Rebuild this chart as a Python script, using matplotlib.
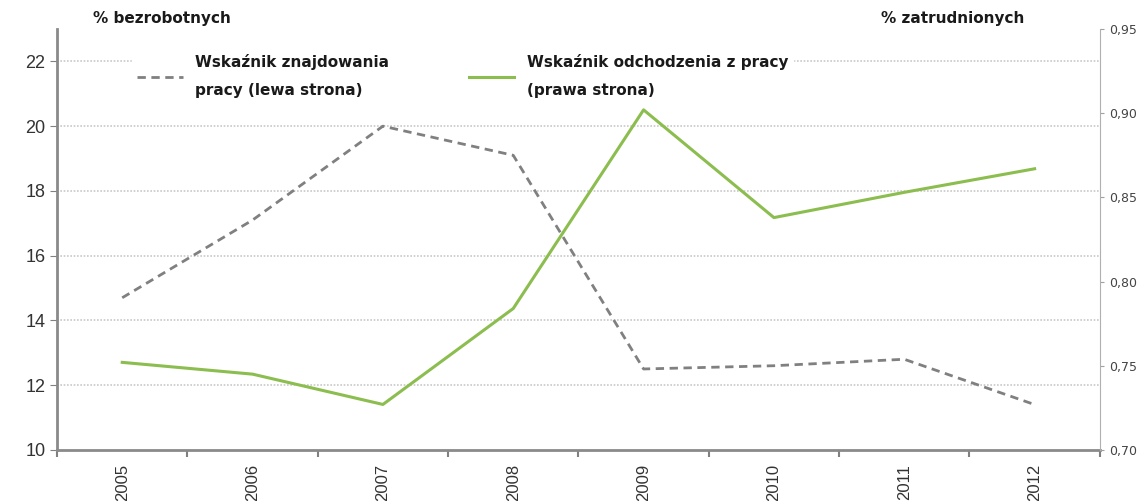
import matplotlib
matplotlib.use("Agg")
import matplotlib.pyplot as plt
import numpy as np

years = ['2005', '2006', '2007', '2008', '2009', '2010', '2011', '2012']
finding = [14.7, 17.1, 20.0, 19.1, 12.5, 12.6, 12.8, 11.4]      # left axis
leaving = [0.752, 0.745, 0.727, 0.784, 0.902, 0.838, 0.853, 0.867]  # right axis

plt.rcParams['font.family'] = ['DejaVu Sans']

fig = plt.figure(figsize=(11.48, 5.01), dpi=100)
ax = fig.add_axes([0.0497, 0.102, 0.9083, 0.84])
ax2 = ax.twinx()

x = np.arange(len(years))
l1, = ax.plot(x, finding, color='#808080', lw=2, ls=(0, (3, 2)))
l2, = ax2.plot(x, leaving, color='#8cbd4f', lw=2.2)

ax.set_xlim(-0.5, len(years) - 0.5)
ax.set_ylim(10, 23)
ax.set_yticks([10, 12, 14, 16, 18, 20, 22])
ax2.set_ylim(0.70, 0.95)
ax2.set_yticks([0.70, 0.75, 0.80, 0.85, 0.90, 0.95])
ax2.set_yticklabels(['0,70', '0,75', '0,80', '0,85', '0,90', '0,95'])

for g in [12, 14, 16, 18, 20, 22]:
    ax.axhline(g, color='#c8c8c8', lw=1.2, ls=(0, (1, 1)), zorder=0)

ax.set_xticks(x)
ax.set_xticklabels(years, rotation=90, fontsize=12, color='#333333',
                   family='Liberation Sans')
ax.tick_params(axis='x', which='major', length=0, pad=10)
ax.set_xticks(np.arange(-0.5, len(years), 1), minor=True)
ax.tick_params(axis='x', which='minor', length=5, color='#808080', width=1.5)
ax.tick_params(axis='y', length=5, color='#808080', labelsize=13, labelcolor='#333333')
for t in ax.get_yticklabels():
    t.set_family('Liberation Sans')
ax2.tick_params(axis='y', length=3, color='#a0a0a0', labelsize=9, labelcolor='#444444')

for s in ['top']:
    ax.spines[s].set_visible(False)
    ax2.spines[s].set_visible(False)
ax.spines['left'].set_color('#8a8a8a')
ax.spines['left'].set_linewidth(2)
ax.spines['bottom'].set_color('#8a8a8a')
ax.spines['bottom'].set_linewidth(2)
ax2.spines['right'].set_color('#b0b0b0')
ax2.spines['left'].set_visible(False)
ax2.spines['bottom'].set_visible(False)
ax.spines['right'].set_visible(False)

fig.text(0.081, 0.955, '% bezrobotnych', fontsize=11, fontweight='bold', color='#1a1a1a')
fig.text(0.767, 0.955, '% zatrudnionych', fontsize=11, fontweight='bold', color='#1a1a1a')

leg = ax2.legend([l1, l2], ['Wskaźnik znajdowania\npracy (lewa strona)',
                            'Wskaźnik odchodzenia z pracy\n(prawa strona)'],
                 ncol=2, loc='upper left', bbox_to_anchor=(0.065, 0.97),
                 frameon=True, fancybox=False, edgecolor='white', facecolor='white',
                 framealpha=1, fontsize=11, handlelength=3, columnspacing=5.2,
                 labelspacing=0.3, borderpad=0.3)
for t in leg.get_texts():
    t.set_fontweight('bold')
    t.set_color('#1a1a1a')
    t.set_linespacing(2.1)

fig.savefig('out.png', dpi=100)
